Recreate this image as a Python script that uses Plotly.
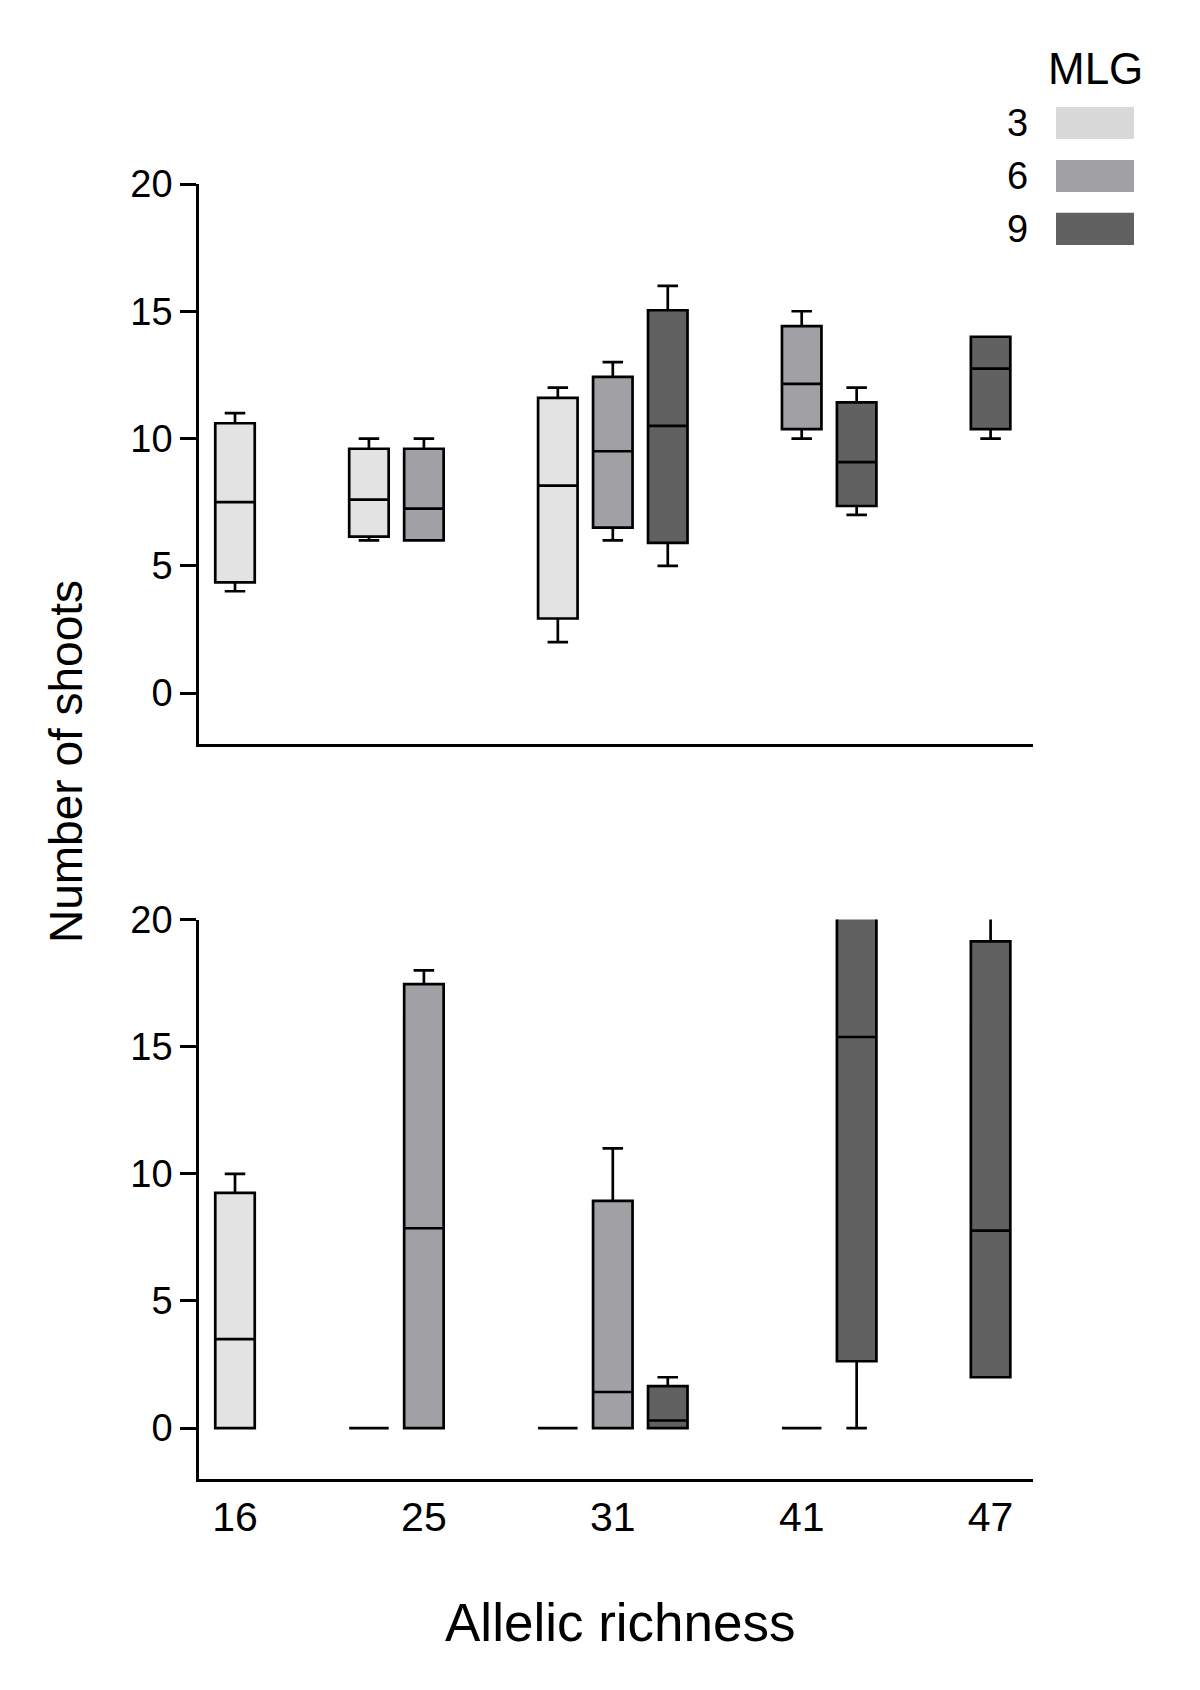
import plotly.graph_objects as go

# ---------------- data ----------------
categories = ["16", "25", "31", "41", "47"]          # allelic richness
mlg_levels = ["3", "6", "9"]                           # MLG
mlg_fill = ["#e3e3e3", "#a1a1a5", "#616161"]
mlg_legend_fill = ["#d8d8d8", "#a1a1a5", "#616161"]

# Top panel – rows: MLG 3, 6, 9 ; columns: categories
top_lower = [[4, 6, 2, None, None], [None, 6, 6, 10, None], [None, None, 5, 7, 10]]
top_q1 = [[4.35, 6.15, 2.93, None, None], [None, 6.0, 6.5, 10.37, None], [None, None, 5.9, 7.35, 10.37]]
top_median = [[7.5, 7.6, 8.15, None, None], [None, 7.25, 9.5, 12.15, None], [None, None, 10.5, 9.07, 12.75]]
top_q3 = [[10.6, 9.6, 11.6, None, None], [None, 9.6, 12.42, 14.42, None], [None, None, 15.04, 11.42, 14.0]]
top_upper = [[11, 10, 12, None, None], [None, 10, 13, 15, None], [None, None, 16, 12, 14]]

# Bottom panel
bot_lower = [[0, 0, 0, None, None], [None, 0, 0, 0, None], [None, None, 0, 0, 2]]
bot_q1 = [[0, 0, 0, None, None], [None, 0, 0, 0, None], [None, None, 0, 2.63, 2.0]]
bot_median = [[3.5, 0, 0, None, None], [None, 7.86, 1.42, 0, None], [None, None, 0.3, 15.38, 7.77]]
bot_q3 = [[9.25, 0, 0, None, None], [None, 17.46, 8.94, 0, None], [None, None, 1.65, 22.0, 19.14]]
bot_upper = [[10, 0, 0, None, None], [None, 18, 11, 0, None], [None, None, 2, 24, 22]]

y_ticks = [0, 5, 10, 15, 20]

# ---------------- style ----------------
FONT = "Liberation Sans, Arial, sans-serif"
SLOT = 0.291      # spacing between MLG boxes within a group (category units)
BOX_W = 0.209
LW = 2.7

fig = go.Figure()


def add_panel(lower, q1, med, q3, upper, xa, ya):
    n_cat = len(categories)
    members = [sum(1 for m in range(3) if q1[m][c] is not None) for c in range(n_cat)]
    for m in range(3):
        xs, a, b, c_, d, e = [], [], [], [], [], []
        for c in range(n_cat):
            if q1[m][c] is None:
                continue
            off = 0 if members[c] == 1 else (m - 1) * SLOT
            xs.append(c + off)
            a.append(lower[m][c]); b.append(q1[m][c]); c_.append(med[m][c])
            d.append(q3[m][c]); e.append(upper[m][c])
        fig.add_trace(go.Box(
            x=xs, lowerfence=a, q1=b, median=c_, q3=d, upperfence=e,
            width=BOX_W, whiskerwidth=0.52, boxpoints=False,
            fillcolor=mlg_fill[m], line=dict(color="black", width=LW),
            name="MLG " + mlg_levels[m], showlegend=False,
            xaxis=xa, yaxis=ya,
        ))


add_panel(top_lower, top_q1, top_median, top_q3, top_upper, "x", "y")
add_panel(bot_lower, bot_q1, bot_median, bot_q3, bot_upper, "x2", "y2")

W, H = 1200, 1690
OFF = 8  # page offset of the figure (body margin)
# target page coordinates of the plot area
L_PAGE, R_PAGE, T_PAGE, B_PAGE = 199, 1033, 184, 1479
ML = L_PAGE - OFF
MT = T_PAGE - OFF
MR = W - (R_PAGE - OFF)
MB = H - (B_PAGE - OFF)
PW, PH = W - ML - MR, H - MT - MB


def px(xp):
    return (xp - OFF - ML) / PW


def py(yp):
    return (H - MB - (yp - OFF)) / PH


x_range = [-0.1906, 4.2245]
yaxis_common = dict(
    range=[-2, 20], tickvals=y_ticks, ticks="outside", ticklen=16, tickwidth=LW,
    tickcolor="black", showline=True, linewidth=LW, linecolor="black",
    showgrid=False, zeroline=False, tickfont=dict(size=38, color="black", family=FONT),
    fixedrange=True,
)
xaxis_common = dict(
    range=x_range, showline=True, linewidth=LW, linecolor="black",
    showgrid=False, zeroline=False, ticks="", fixedrange=True,
)

fig.update_layout(
    width=W, height=H,
    margin=dict(l=ML, r=MR, t=MT, b=MB),
    paper_bgcolor="white", plot_bgcolor="white",
    font=dict(family=FONT, color="black"),
    boxmode="overlay",
    showlegend=False,
    xaxis=dict(domain=[0, 1], anchor="y", showticklabels=False, **xaxis_common),
    yaxis=dict(domain=[py(744), 1], anchor="x", **yaxis_common),
    xaxis2=dict(domain=[0, 1], anchor="y2", tickvals=list(range(len(categories))),
                ticktext=categories, tickfont=dict(size=41, color="black", family=FONT),
                **xaxis_common),
    yaxis2=dict(domain=[0, py(919.5)], anchor="x2", **yaxis_common),
)

annotations = [
    dict(text="Number of shoots", x=px(66), y=py(762), xref="paper", yref="paper",
         textangle=-90, showarrow=False, font=dict(size=46, family=FONT, color="black"),
         xanchor="center", yanchor="middle"),
    dict(text="Allelic richness", x=px(620), y=py(1622), xref="paper", yref="paper",
         showarrow=False, font=dict(size=53, family=FONT, color="black"),
         xanchor="center", yanchor="middle"),
    dict(text="MLG", x=px(1095), y=py(68), xref="paper", yref="paper",
         showarrow=False, font=dict(size=44, family=FONT, color="black"),
         xanchor="center", yanchor="middle"),
]

shapes = []
legend_rows = [(107, 139), (160, 192), (212.7, 245)]
for i, lvl in enumerate(mlg_levels):
    y0, y1 = legend_rows[i]
    shapes.append(dict(type="rect", xref="paper", yref="paper",
                       x0=px(1056), x1=px(1134), y0=py(y1), y1=py(y0),
                       fillcolor=mlg_legend_fill[i], line=dict(width=0)))
    annotations.append(dict(text=lvl, x=px(1030), y=py((y0 + y1) / 2), xref="paper", yref="paper",
                            showarrow=False, font=dict(size=38, family=FONT, color="black"),
                            xanchor="right", yanchor="middle"))

fig.update_layout(annotations=annotations, shapes=shapes)

fig.write_html("out.html")
